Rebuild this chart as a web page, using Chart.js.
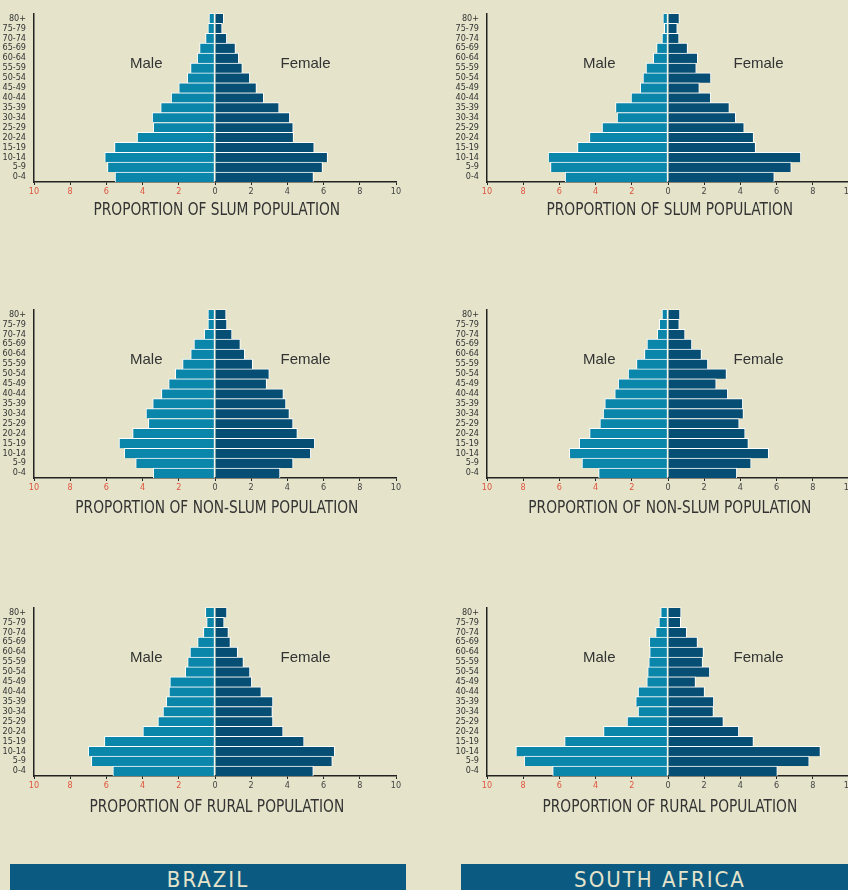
<!DOCTYPE html>
<html>
<head>
<meta charset="utf-8">
<script src="https://cdn.jsdelivr.net/npm/chart.js@4.4.1/dist/chart.umd.min.js"></script>
<style>
  html, body { margin: 0; padding: 0; }
  body { width: 848px; height: 890px; background: #e5e4cb; position: relative; overflow: hidden; }
  canvas { position: absolute; }
  .banner {
    position: absolute; top: 864px; height: 40px; background: #0b5a82; color: #e5e4cb;
    font-family: "Liberation Sans Narrow", "DejaVu Sans Condensed", sans-serif;
    font-size: 22px; letter-spacing: 2px; text-align: center; line-height: 1; padding-top: 5px;
    box-sizing: border-box;
  }
</style>
</head>
<body>
<canvas id="brSlum" width="430" height="230" style="left:0;top:0"></canvas>
<canvas id="saSlum" width="430" height="230" style="left:453px;top:0"></canvas>
<canvas id="brNon" width="430" height="230" style="left:0;top:296px"></canvas>
<canvas id="saNon" width="430" height="230" style="left:453px;top:296px"></canvas>
<canvas id="brRural" width="430" height="230" style="left:0;top:594px"></canvas>
<canvas id="saRural" width="430" height="230" style="left:453px;top:594px"></canvas>
<div class="banner" style="left:10px;width:396px">BRAZIL</div>
<div class="banner" style="left:461px;width:398px">SOUTH AFRICA</div>

<script>
// age groups, top to bottom
const ages = ['80+', '75-79', '70-74', '65-69', '60-64', '55-59', '50-54', '45-49', '40-44',
  '35-39', '30-34', '25-29', '20-24', '15-19', '10-14', '5-9', '0-4'];

// Brazil
const brSlumMale = [0.33, 0.39, 0.52, 0.85, 0.98, 1.35, 1.53, 2.0, 2.42, 3.0, 3.47, 3.41, 4.3, 5.55, 6.09, 5.94, 5.52];
const brSlumFemale = [0.48, 0.39, 0.65, 1.13, 1.31, 1.51, 1.92, 2.29, 2.69, 3.54, 4.13, 4.32, 4.34, 5.48, 6.22, 5.94, 5.44];
const brNonMale = [0.39, 0.39, 0.59, 1.16, 1.34, 1.79, 2.19, 2.56, 2.96, 3.44, 3.81, 3.68, 4.55, 5.3, 5.01, 4.38, 3.41];
const brNonFemale = [0.61, 0.66, 0.94, 1.4, 1.64, 2.08, 3.0, 2.85, 3.78, 3.92, 4.11, 4.31, 4.55, 5.51, 5.29, 4.31, 3.59];
const brRuralMale = [0.53, 0.46, 0.64, 0.96, 1.38, 1.51, 1.64, 2.49, 2.54, 2.69, 2.87, 3.15, 3.98, 6.11, 7.0, 6.83, 5.64];
const brRuralFemale = [0.66, 0.5, 0.74, 0.85, 1.25, 1.57, 1.93, 2.03, 2.56, 3.2, 3.17, 3.2, 3.76, 4.92, 6.61, 6.48, 5.43];

// South Africa
const saSlumMale = [0.28, 0.2, 0.33, 0.63, 0.81, 1.21, 1.38, 1.53, 2.04, 2.9, 2.81, 3.64, 4.34, 5.0, 6.62, 6.49, 5.68];
const saSlumFemale = [0.63, 0.51, 0.61, 1.08, 1.64, 1.56, 2.37, 1.73, 2.36, 3.39, 3.74, 4.21, 4.73, 4.84, 7.34, 6.81, 5.87];
const saNonMale = [0.33, 0.48, 0.59, 1.16, 1.3, 1.74, 2.2, 2.75, 2.94, 3.49, 3.58, 3.76, 4.33, 4.9, 5.45, 4.75, 3.83];
const saNonFemale = [0.66, 0.62, 0.94, 1.32, 1.85, 2.2, 3.23, 2.66, 3.3, 4.13, 4.17, 3.93, 4.26, 4.44, 5.56, 4.59, 3.8];
const saRuralMale = [0.4, 0.5, 0.68, 1.03, 1.01, 1.06, 1.12, 1.17, 1.65, 1.78, 1.65, 2.26, 3.56, 5.71, 8.4, 7.94, 6.37];
const saRuralFemale = [0.72, 0.7, 1.03, 1.63, 1.96, 1.91, 2.31, 1.52, 2.02, 2.53, 2.51, 3.06, 3.91, 4.72, 8.42, 7.8, 6.04];

const narrow = '"Liberation Sans Narrow", "DejaVu Sans Condensed", sans-serif';

// draws "Male" / "Female" and the bottom caption
const labelsPlugin = {
  id: 'pyramidLabels',
  afterDraw(chart) {
    const { ctx, scales: { x, y } } = chart;
    const o = chart.options.plugins.pyramidLabels;
    ctx.save();
    ctx.fillStyle = '#333';
    ctx.textAlign = 'center';
    ctx.textBaseline = 'middle';
    ctx.font = '15px "Liberation Sans", Arial, sans-serif';
    ctx.fillText('Male', x.getPixelForValue(-3.8), y.getPixelForValue(4.6));
    ctx.fillText('Female', x.getPixelForValue(5.0), y.getPixelForValue(4.6));
    // caption, squeezed a little to look condensed
    ctx.font = '17px ' + narrow;
    ctx.translate(x.getPixelForValue(0.1), chart.chartArea.bottom + o.titleGap);
    ctx.scale(0.9, 1);
    ctx.fillText(o.title, 0, 0);
    ctx.restore();
  }
};

function makePyramid(id, male, female, title, titleGap) {
  new Chart(document.getElementById(id), {
    type: 'bar',
    data: {
      labels: ages,
      datasets: [{
        label: 'Male',
        data: male.map(v => -v),
        backgroundColor: '#0a86ab',
        borderColor: '#ffffff',
        borderWidth: { top: 1, bottom: 0, left: 1, right: 1 },
        borderSkipped: false
      }, {
        label: 'Female',
        data: female,
        backgroundColor: '#064e73',
        borderColor: '#ffffff',
        borderWidth: { top: 1, bottom: 0, left: 0, right: 1 },
        borderSkipped: false
      }]
    },
    options: {
      indexAxis: 'y',
      responsive: false,
      animation: false,
      barPercentage: 1,
      categoryPercentage: 1,
      layout: { padding: { top: 10, right: 34, bottom: 28, left: 0 } },
      scales: {
        x: {
          stacked: true,
          min: -10, max: 10,
          afterFit: s => { s.height = 20; },
          ticks: {
            stepSize: 2,
            padding: 1,
            font: { family: narrow, size: 9 },
            color: c => c.tick && c.tick.value < 0 ? '#e0553f' : '#444',
            callback: v => Math.abs(v)
          },
          grid: { drawOnChartArea: false, drawTicks: true, tickLength: 3, color: '#222' },
          border: { display: true, color: '#222', width: 1.5 }
        },
        y: {
          stacked: true,
          afterFit: s => { s.width = 34; },
          ticks: { padding: 8, font: { family: narrow, size: 9 }, color: '#333', autoSkip: false },
          grid: { display: false, drawTicks: false },
          border: { display: true, color: '#222', width: 1.5 }
        }
      },
      plugins: {
        legend: { display: false },
        tooltip: { enabled: false },
        pyramidLabels: { title: title, titleGap: titleGap }
      }
    },
    plugins: [labelsPlugin]
  });
}

makePyramid('brSlum', brSlumMale, brSlumFemale, 'PROPORTION OF SLUM POPULATION', 29);
makePyramid('saSlum', saSlumMale, saSlumFemale, 'PROPORTION OF SLUM POPULATION', 29);
makePyramid('brNon', brNonMale, brNonFemale, 'PROPORTION OF NON-SLUM POPULATION', 31);
makePyramid('saNon', saNonMale, saNonFemale, 'PROPORTION OF NON-SLUM POPULATION', 31);
makePyramid('brRural', brRuralMale, brRuralFemale, 'PROPORTION OF RURAL POPULATION', 32);
makePyramid('saRural', saRuralMale, saRuralFemale, 'PROPORTION OF RURAL POPULATION', 32);
</script>
</body>
</html>
